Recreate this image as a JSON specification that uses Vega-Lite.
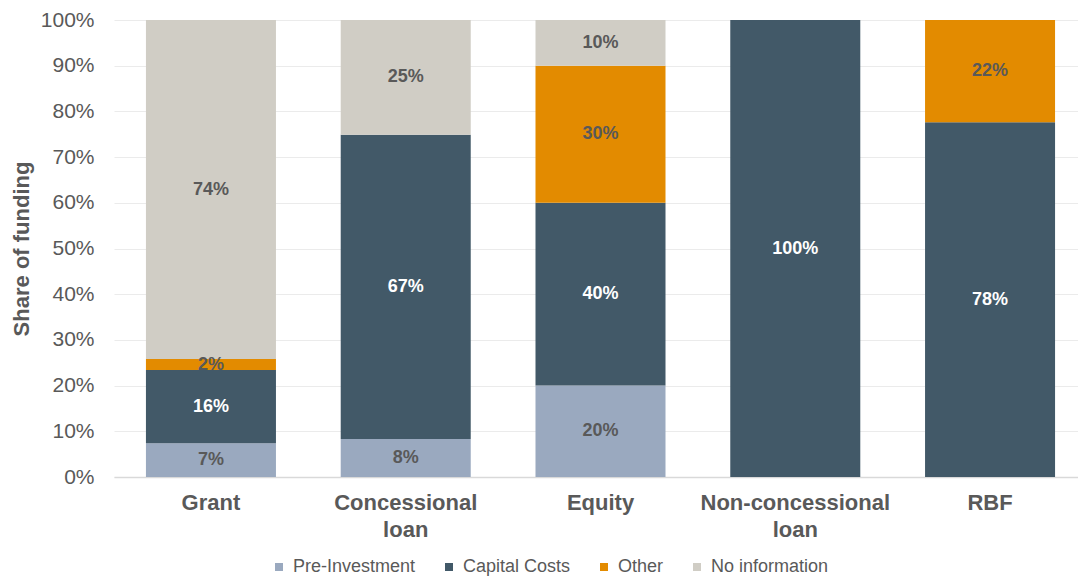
{
  "$schema": "https://vega.github.io/schema/vega-lite/v6.json",
  "autosize": {"type": "none"},
  "width": 964,
  "height": 457,
  "padding": {"left": 114, "top": 20, "right": 0, "bottom": 101},
  "background": "white",
  "config": {
    "font": "Liberation Sans",
    "view": {"stroke": null}
  },
  "data": {
    "values": [
      {"cat": "Grant", "seg": "Pre-Investment", "v": 0.074, "o": 1},
      {"cat": "Grant", "seg": "Capital Costs", "v": 0.160, "o": 2},
      {"cat": "Grant", "seg": "Other", "v": 0.024, "o": 3},
      {"cat": "Grant", "seg": "No information", "v": 0.742, "o": 4},
      {"cat": "Concessional loan", "seg": "Pre-Investment", "v": 0.083, "o": 1},
      {"cat": "Concessional loan", "seg": "Capital Costs", "v": 0.666, "o": 2},
      {"cat": "Concessional loan", "seg": "No information", "v": 0.251, "o": 4},
      {"cat": "Equity", "seg": "Pre-Investment", "v": 0.20, "o": 1},
      {"cat": "Equity", "seg": "Capital Costs", "v": 0.40, "o": 2},
      {"cat": "Equity", "seg": "Other", "v": 0.30, "o": 3},
      {"cat": "Equity", "seg": "No information", "v": 0.10, "o": 4},
      {"cat": "Non-concessional loan", "seg": "Capital Costs", "v": 1.0, "o": 2},
      {"cat": "RBF", "seg": "Capital Costs", "v": 0.776, "o": 2},
      {"cat": "RBF", "seg": "Other", "v": 0.224, "o": 3}
    ]
  },
  "encoding": {
    "x": {
      "field": "cat",
      "type": "nominal",
      "sort": ["Grant", "Concessional loan", "Equity", "Non-concessional loan", "RBF"],
      "scale": {"range": [0, 973], "paddingInner": 0.3325, "paddingOuter": 0.164},
      "axis": {
        "title": null,
        "labelAngle": 0,
        "labelFontSize": 22,
        "labelFontWeight": "bold",
        "labelColor": "#595959",
        "labelPadding": 15,
        "labelBaseline": "top",
        "labelLineHeight": 27,
        "labelLimit": 400,
        "labelExpr": "datum.label == 'Concessional loan' ? ['Concessional', 'loan'] : datum.label == 'Non-concessional loan' ? ['Non-concessional', 'loan'] : datum.label",
        "ticks": false,
        "domainColor": "#D9D9D9",
        "domainWidth": 1.5,
        "grid": false
      }
    }
  },
  "layer": [
    {
      "mark": {"type": "bar"},
      "encoding": {
        "y": {
          "field": "v",
          "type": "quantitative",
          "stack": "zero",
          "scale": {"domain": [0, 1]},
          "axis": {
            "title": "Share of funding",
            "titleFontSize": 22,
            "titleFontWeight": "bold",
            "titleColor": "#595959",
            "titlePadding": 7,
            "format": ".0%",
            "values": [0, 0.1, 0.2, 0.3, 0.4, 0.5, 0.6, 0.7, 0.8, 0.9, 1.0],
            "labelFontSize": 21,
            "labelColor": "#595959",
            "labelPadding": 20,
            "ticks": false,
            "domain": false,
            "gridColor": "#EBEBEB",
            "gridWidth": 1.2
          }
        },
        "color": {
          "field": "seg",
          "type": "nominal",
          "scale": {
            "domain": ["Pre-Investment", "Capital Costs", "Other", "No information"],
            "range": ["#9AA9BF", "#425968", "#E38B00", "#D0CDC5"]
          },
          "legend": {
            "title": null,
            "orient": "none",
            "legendX": 156,
            "legendY": 538,
            "direction": "horizontal",
            "symbolType": "square",
            "symbolSize": 64,
            "symbolStrokeWidth": 0,
            "labelFontSize": 18,
            "labelColor": "#595959",
            "labelOffset": 5,
            "columnPadding": 24,
            "padding": 0
          }
        },
        "order": {"field": "o", "type": "quantitative"}
      }
    },
    {
      "transform": [
        {"stack": "v", "groupby": ["cat"], "sort": [{"field": "o", "order": "ascending"}], "as": ["v0", "v1"]},
        {"calculate": "(datum.v0 + datum.v1) / 2", "as": "mid"}
      ],
      "mark": {"type": "text", "fontSize": 18, "fontWeight": "bold", "baseline": "middle", "align": "center"},
      "encoding": {
        "y": {"field": "mid", "type": "quantitative", "title": "Share of funding"},
        "text": {"field": "v", "type": "quantitative", "format": ".0%"},
        "color": {
          "condition": {"test": "datum.seg == 'Capital Costs'", "value": "white"},
          "value": "#595959"
        }
      }
    }
  ]
}
